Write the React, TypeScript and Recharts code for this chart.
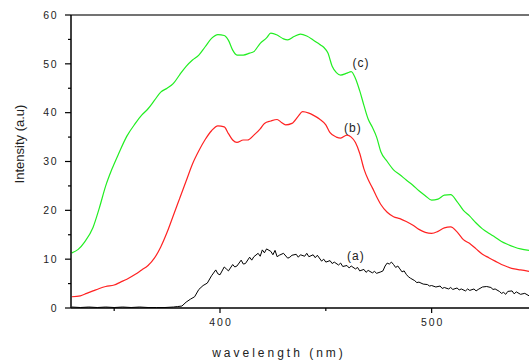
import React from 'react';
import { LineChart, Line, XAxis, YAxis, ReferenceLine, ReferenceDot } from 'recharts';

// Curve (c) - green
const waveC = [330,333,336,340,343,346,349,352,356,360,363,366,369,372,375,378,381,384,387,390,393,396,399,402,404,406,408,411,414,416,419,422,424,427,430,432,435,438,441,444,447,449,451,453,455,457,460,462,464,466,468,470,472,474,476,479,482,485,488,491,494,497,500,503,506,509,512,515,518,521,524,527,530,533,536,539,542,546];
const intensityC = [11.3,12.0,13.5,16.5,20.5,25,28.5,31.5,35.2,37.8,39.5,40.8,42.5,44.2,45,46,47.8,49.5,50.8,51.8,53.5,55.2,56,55.8,54.8,52.8,51.8,51.8,52.2,52.5,54.2,55.3,56.3,55.9,55.1,54.9,55.6,56.1,55.7,54.9,54,53.4,52.2,49.5,48.2,47.7,48.1,48.4,47,44.5,41.5,38.7,37,35,32,30,28.3,27.3,26.2,25.2,24,23,22.1,22.3,23.1,23.2,21.8,20,18.8,17.4,16.2,15.3,14.5,13.6,13.0,12.5,12.1,11.8];

// Curve (b) - red
const waveB = [330,334,337,340,343,346,350,353,356,360,363,366,369,372,375,378,381,384,387,390,393,396,399,402,404,406,408,411,413,416,419,421,424,427,429,431,434,437,439,442,444,447,450,452,455,457,460,462,464,466,468,470,472,474,476,479,482,485,488,491,494,497,500,503,506,509,512,515,518,521,524,527,530,533,536,539,542,546];
const intensityB = [2.3,2.5,3.0,3.5,4.0,4.4,4.7,5.3,5.9,6.9,7.8,8.7,10.2,12.5,15.5,19,22.5,26,29.5,32.2,34.5,36.3,37.3,37.1,35.7,34.4,33.9,34.4,34.4,35.4,36.7,37.8,38.3,38.6,38.0,37.5,37.8,39.3,40.2,39.9,39.5,38.7,37.5,35.9,35.0,34.8,35.4,35.0,33.9,31.7,28.5,26.3,24.6,22.8,21.2,19.6,18.7,18.3,17.7,17.0,16.1,15.5,15.3,15.7,16.4,16.6,15.6,14.0,13.2,12.1,11.0,10.3,9.6,8.9,8.4,8.0,7.8,7.5];

// Curve (a) - black
const waveA = [330,334,338,342,346,350,354,358,362,366,370,374,378,380,382,384,386,388,390,392,394,396,398,399,400,402,403,404,406,407,408,410,411,412,414,415,416,418,419,420,421,422,424,425,426,427,428,430,432,433,434,436,437,438,440,441,442,444,445,446,448,449,450,452,453,454,456,457,458,460,461,462,464,465,466,468,469,470,472,473,474,476,477,478,479,480,481,482,483,484,485,486,487,488,489,490,492,493,494,496,498,499,500,502,504,505,506,508,509,510,512,513,514,516,517,518,520,521,522,524,526,528,529,530,532,533,534,535,536,538,539,540,542,544,546];
const intensityA = [0.2,0.1,0.2,0.1,0.2,0.1,0.2,0.1,0.2,0.1,0.1,0.1,0.2,0.3,0.4,1.2,1.8,2.3,3.8,4.6,5.1,6.6,7.8,7.0,6.8,8.4,8.0,7.6,8.9,8.4,8.6,9.8,9.0,9.1,10.4,9.8,10.5,11.2,10.6,11.9,11.3,12.1,11.6,10.9,11.8,10.5,10.8,11.2,10.2,10.4,10.8,11.0,10.4,10.9,10.6,11.2,10.5,10.9,10.3,10.8,9.6,10.0,9.4,9.7,9.1,9.4,8.8,9.2,8.5,8.7,8.2,8.6,8.0,8.3,7.6,7.9,7.3,7.7,7.2,7.5,7.1,7.4,7.6,8.6,9.2,9.0,9.4,8.9,8.3,8.6,8.0,7.4,7.6,6.9,6.4,6.1,5.6,5.2,5.3,4.9,4.8,4.5,4.6,4.3,4.5,4.0,4.2,3.9,4.2,3.8,4.1,3.7,3.9,3.5,3.9,3.6,3.9,3.5,3.8,4.3,4.4,4.2,3.8,3.9,3.4,3.0,3.2,2.8,3.4,3.5,2.9,3.3,2.8,3.0,2.5];

const xTicks = [350, 400, 450, 500];
const yTicks = [0, 5, 10, 15, 20, 25, 30, 35, 40, 45, 50, 55, 60];
const curveLabels = ['(a)', '(b)', '(c)'];
const labelX = [464.2, 462.8, 466.6];
const labelY = [10.6, 36.9, 50.2];

const dataA = waveA.map((x, i) => ({ x, y: intensityA[i] }));
const dataB = waveB.map((x, i) => ({ x, y: intensityB[i] }));
const dataC = waveC.map((x, i) => ({ x, y: intensityC[i] }));

const FONT = '"Liberation Sans", Arial, sans-serif';

const XTick = (props: any) => {
  const { x, y, payload } = props;
  const major = payload.value % 100 === 0;
  return (
    <g>
      <line x1={x} x2={x} y1={y} y2={y + (major ? 5 : 3)} stroke="#000" strokeWidth={1.2} />
      {major && (
        <text x={x + 1} y={y + 18} textAnchor="middle" fontSize={10.5} fontFamily={FONT} letterSpacing={2} fill="#222">
          {payload.value}
        </text>
      )}
    </g>
  );
};

const YTick = (props: any) => {
  const { x, y, payload } = props;
  const major = payload.value % 10 === 0;
  return (
    <g>
      <line x1={x - (major ? 6 : 3)} x2={x} y1={y} y2={y} stroke="#000" strokeWidth={1.2} />
      {major && (
        <text x={x - 13} y={y + 3.8} textAnchor="end" fontSize={10.5} fontFamily={FONT} letterSpacing={1.5} fill="#222">
          {payload.value}
        </text>
      )}
    </g>
  );
};

export default function App() {
  return (
    <div style={{ position: 'absolute', left: 0, top: 0, background: '#fff' }}>
      <LineChart width={529} height={360} margin={{ top: 15, right: 0, bottom: 0, left: 0 }}>
        <XAxis
          type="number"
          dataKey="x"
          domain={[329.6, 546]}
          allowDataOverflow
          ticks={xTicks}
          tick={<XTick />}
          tickSize={0}
          tickMargin={0}
          tickLine={false}
          height={52}
          axisLine={{ stroke: '#000', strokeWidth: 1.5 }}
          label={{
            content: () => (
              <text x={279} y={357} textAnchor="middle" fontSize={12} fontFamily={FONT} letterSpacing={3} fill="#222">
                wavelength (nm)
              </text>
            ),
          }}
        />
        <YAxis
          type="number"
          domain={[0, 60]}
          ticks={yTicks}
          tick={<YTick />}
          tickSize={0}
          tickMargin={0}
          tickLine={false}
          width={71}
          interval={0}
          axisLine={{ stroke: '#000', strokeWidth: 1.5 }}
          label={{
            content: () => (
              <text x={24} y={144} transform="rotate(-90 24 144)" textAnchor="middle" fontSize={13} fontFamily={FONT} fill="#222">
                Intensity (a.u)
              </text>
            ),
          }}
        />
        <ReferenceLine y={60} stroke="#444" strokeWidth={1.5} />
        <Line data={dataC} dataKey="y" type="monotone" stroke="#22ee22" strokeWidth={1.2} dot={false} isAnimationActive={false} />
        <Line data={dataB} dataKey="y" type="monotone" stroke="#ff2222" strokeWidth={1.2} dot={false} isAnimationActive={false} />
        <Line data={dataA} dataKey="y" type="linear" stroke="#000" strokeWidth={1} dot={false} isAnimationActive={false} />
        {curveLabels.map((t, i) => (
          <ReferenceDot
            key={t}
            x={labelX[i]}
            y={labelY[i]}
            r={0}
            shape={(p: any) => (
              <text x={p.cx} y={p.cy + 4} textAnchor="middle" fontSize={12} fontFamily={FONT} letterSpacing={1} fill="#222">
                {t}
              </text>
            )}
          />
        ))}
      </LineChart>
    </div>
  );
}
